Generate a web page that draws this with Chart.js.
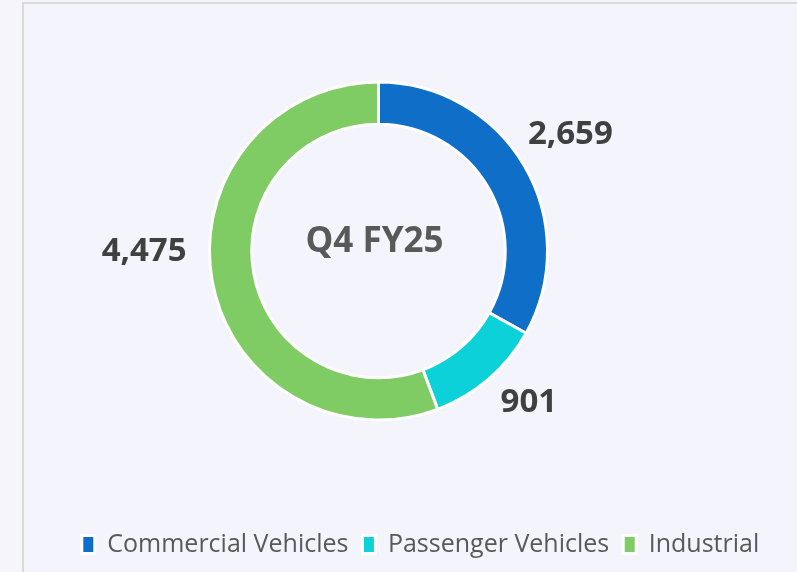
<!DOCTYPE html>
<html>
<head>
<meta charset="utf-8">
<script src="https://cdn.jsdelivr.net/npm/chart.js@4.4.1/dist/chart.umd.min.js"></script>
<style>
    html, body { margin: 0; padding: 0; background: #f5f5fb; overflow: hidden; }
    .moldura {
        position: absolute; left: 22px; top: 2px; width: 800px; height: 600px;
        border-left: 2px solid #d9d9d9; border-top: 2px solid #d9d9d9;
        background: #f3f4fc;
    }
    .grafico { position: absolute; left: 0; top: 0; width: 797px; height: 572px; }
</style>
</head>
<body>
<div class="moldura"></div>
<div class="grafico"><canvas id="donut"></canvas></div>
<script>
var categorias = ["Commercial Vehicles", "Passenger Vehicles", "Industrial"];
var valores = [2659, 901, 4475];
var cores = ["#0f6ec7", "#0dd1d9", "#7fcb64"];
var textoCentro = "Q4 FY25";

// desloca a area do donut (a legenda fica centrada no canvas)
var deslocaArea = {
    id: "deslocaArea",
    afterLayout: function (chart, args, opts) {
        chart.chartArea.left += opts.x;
        chart.chartArea.right += opts.x;
        chart.chartArea.top += opts.y;
        chart.chartArea.bottom += opts.y;
    }
};

// rotulos de valor fora do anel + texto no centro
var rotulos = {
    id: "rotulos",
    afterDatasetsDraw: function (chart, args, opts) {
        var ctx = chart.ctx;
        var meta = chart.getDatasetMeta(0);
        ctx.save();
        ctx.textAlign = "center";
        ctx.textBaseline = "middle";
        ctx.fillStyle = opts.color;
        ctx.font = opts.font;
        meta.data.forEach(function (arc, i) {
            var p = arc.getProps(["x", "y", "startAngle", "endAngle", "outerRadius"], true);
            var meio = (p.startAngle + p.endAngle) / 2;
            var r = p.outerRadius + opts.distancia;
            var ajuste = opts.ajustes[i] || [0, 0];
            var x = p.x + Math.cos(meio) * r + ajuste[0];
            var y = p.y + Math.sin(meio) * r + ajuste[1];
            ctx.fillText(chart.data.datasets[0].data[i].toLocaleString("en-US"), x, y);
        });
        var c = meta.data[0];
        ctx.fillStyle = opts.corCentro;
        ctx.font = opts.fontCentro;
        ctx.fillText(textoCentro, c.x + opts.centro[0], c.y + opts.centro[1]);
        ctx.restore();
    }
};

geraGrafico(document.getElementById("donut"));

function geraGrafico(ctx) {
    var grafico = new Chart(ctx, {
        type: "doughnut",
        data: {
            labels: categorias,
            datasets: [{
                data: valores,
                backgroundColor: cores,
                borderColor: "#ffffff",
                borderWidth: 3,
                radius: 169,
                cutout: "75%"
            }]
        },
        options: {
            responsive: true,
            maintainAspectRatio: false,
            animation: false,
            layout: { padding: { top: 0, left: 44, right: 0, bottom: 5 } },
            plugins: {
                tooltip: { enabled: false },
                legend: {
                    position: "bottom",
                    labels: {
                        boxWidth: 13,
                        boxHeight: 18,
                        padding: 14,
                        color: "#595959",
                        font: { family: "'Open Sans'", size: 25 }
                    }
                },
                deslocaArea: { x: -42, y: -8 },
                rotulos: {
                    color: "#404040",
                    corCentro: "#595959",
                    font: "bold 33px 'Open Sans'",
                    fontCentro: "bold 35px 'Open Sans'",
                    distancia: 57,
                    ajustes: [[-3, -2], [3, -20], [-12, -40]],
                    centro: [-4, -9]
                }
            }
        },
        plugins: [deslocaArea, rotulos]
    });
}
</script>
</body>
</html>
